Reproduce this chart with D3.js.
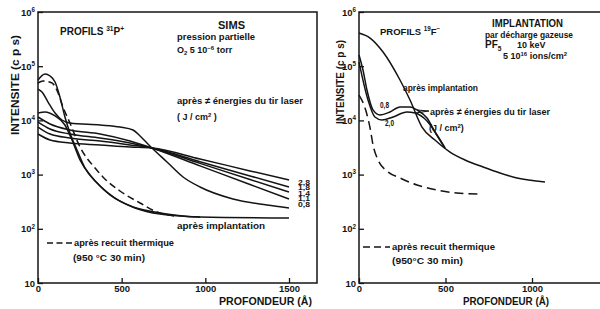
<!DOCTYPE html>
<html><head><meta charset="utf-8">
<script src="https://cdn.jsdelivr.net/npm/d3@7"></script>
<style>html,body{margin:0;padding:0;background:#fff;} svg{display:block;}</style>
</head><body><svg id="c" width="600" height="309"></svg>
<script>
// ---------- DATA (depth in Å, intensity in c/s) ----------
const yTickValues = [10, 1e2, 1e3, 1e4, 1e5, 1e6];
const xTicksP = [0, 500, 1000, 1500];
const xTicksF = [0, 500, 1000];
const laserLabelsP = ["2,8", "1,8", "1,4", "1,1", "0,8"];
const laserLabelsF = ["0,8", "2,0"];

// Left panel: profils 31P+
const pImplant = [[0,55600],[42,71800],[72,65900],[102,51100],[131,27000],[161,11550],[191,5860],[233,2840],[281,1320],[353,700],[430,421],[568,252],[729,196],[968,165],[1500,158]];
const pRecuit = [[0,49000],[30,53300],[84,49000],[120,32000],[149,17700],[191,8960],[251,3230],[341,1320],[388,903],[490,498],[610,299],[711,204],[819,172]];
const pSteep = [[0,13700],[42,14300],[102,12060],[161,8220],[203,4350],[251,1860],[311,984],[371,616],[460,370],[580,242],[729,187],[968,165]];
const pLaser08 = [[0,37900],[24,33400],[60,21800],[102,13700],[143,10170],[191,8960],[371,8220],[490,7550],[568,6650],[610,5150],[651,3830],[681,3100],[771,1710],[867,903],[968,590],[1165,355],[1368,275],[1500,242]];
const pLaser11 = [[0,11550],[72,8590],[191,6650],[371,5610],[550,4170],[681,3100],[968,1450],[1267,657],[1500,355]];
const pLaser14 = [[0,9340],[72,6940],[191,5610],[371,4730],[550,3830],[681,3100],[968,1610],[1267,812],[1500,478]];
const pLaser18 = [[0,7550],[72,5610],[191,4730],[371,4170],[550,3520],[681,3100],[968,1730],[1267,946],[1500,590]];
const pLaser28 = [[0,5610],[72,4350],[191,3830],[371,3520],[550,3230],[681,3100],[968,1940],[1267,1170],[1500,795]];

// Right panel: profils 19F-
const fImplant = [[0,410000],[64,331000],[139,183000],[237,55600],[295,23800],[364,7550],[439,4350],[526,2610],[613,1860],[717,1380],[815,1070],[913,866],[1075,730]];
const fRecuit = [[0,29400],[35,16900],[64,7240],[81,3520],[110,1860],[162,1160],[237,866],[335,643],[451,520],[566,458],[699,439]];
const fLaser08 = [[0,161000],[23,85100],[46,36400],[81,15600],[121,12600],[179,14300],[237,17700],[295,17700],[335,15600],[393,11070],[439,6110],[497,3100]];
const fLaser20 = [[0,119000],[52,23800],[92,11550],[133,10170],[197,11550],[277,14300],[324,13700],[393,9750],[451,5380],[497,3100]];

// ---------- DRAWING ----------
const ink = '#141414';
const FONT = "'Liberation Sans', Arial, sans-serif";
const svg = d3.select('#c').attr('font-family', FONT);
svg.append('rect').attr('width',600).attr('height',309).attr('fill','#fff');

const y = d3.scaleLog().domain([10, 1e6]).range([283, 12]);
const xP = d3.scaleLinear().domain([0, 1500]).range([38, 289]);
const xF = d3.scaleLinear().domain([0, 1000]).range([359, 532]);

function addText(g, x, yy, parts, o = {}) {
  const fs = o.fs || 9;
  const t = g.append('text').attr('x', x).attr('y', yy).attr('font-size', fs)
    .attr('font-weight', o.fw || 'bold').attr('fill', ink);
  if (o.anchor) t.attr('text-anchor', o.anchor);
  if (o.len) t.attr('textLength', o.len).attr('lengthAdjust', 'spacingAndGlyphs');
  let shift = 0;
  (Array.isArray(parts) ? parts : [parts]).forEach(p => {
    let s = p, kind = null;
    if (typeof p === 'object') { s = p.t; kind = p.k; }
    const target = kind === 'sup' ? -fs * 0.38 : kind === 'sub' ? fs * 0.25 : 0;
    const ts = t.append('tspan').text(s).attr('dy', target - shift);
    if (kind) ts.attr('font-size', fs * 0.66);
    shift = target;
  });
  return t;
}

// frames
svg.append('path').attr('d', 'M38,12H317V283H38Z').attr('fill','none').attr('stroke',ink).attr('stroke-width',1.5);
svg.append('path').attr('d', 'M600,12H359V283H600').attr('fill','none').attr('stroke',ink).attr('stroke-width',1.5);

function yAxis(x0) {
  const g = svg.append('g').attr('transform', `translate(${x0},0)`)
    .call(d3.axisLeft(y).tickValues(yTickValues).tickSize(-5).tickSizeOuter(0).tickFormat(''));
  g.select('.domain').remove();
  g.selectAll('.tick line').attr('stroke', ink).attr('stroke-width', 1.3);
  g.selectAll('.tick text').remove();
  g.selectAll('.tick').each(function (d) {
    const e = Math.round(Math.log10(d));
    addText(d3.select(this), -3, 3, e === 1 ? ['10'] : ['10', { t: String(e), k: 'sup' }], { fs: 9.5, anchor: 'end' });
  });
}
function xAxis(scale, ticks) {
  const g = svg.append('g').attr('transform', 'translate(0,283)')
    .call(d3.axisBottom(scale).tickValues(ticks).tickSize(-5).tickSizeOuter(0).tickPadding(2).tickFormat(d3.format('d')));
  g.select('.domain').remove();
  g.selectAll('.tick line').attr('stroke', ink).attr('stroke-width', 1.3);
  g.selectAll('.tick text').attr('fill', ink).attr('font-size', 9.5).attr('font-weight', 'bold')
    .attr('font-family', FONT);
}
yAxis(38); yAxis(359);
xAxis(xP, xTicksP); xAxis(xF, xTicksF);

function drawLine(data, xs, dash) {
  const line = d3.line().x(d => xs(d[0])).y(d => y(d[1])).curve(d3.curveMonotoneX);
  const p = svg.append('path').datum(data).attr('d', line).attr('fill', 'none')
    .attr('stroke', ink).attr('stroke-width', 1.5).attr('stroke-linejoin', 'round');
  if (dash) p.attr('stroke-dasharray', dash);
}
[pImplant, pSteep, pLaser08, pLaser11, pLaser14, pLaser18, pLaser28].forEach(s => drawLine(s, xP));
drawLine(pRecuit, xP, '7,4');
[fImplant, fLaser08, fLaser20].forEach(s => drawLine(s, xF));
drawLine(fRecuit, xF, '9,5');

// axis titles
function vTitle(cx, cy, len) {
  svg.append('text').attr('transform', `translate(${cx},${cy}) rotate(-90)`).attr('text-anchor', 'middle')
    .attr('font-size', 10.5).attr('font-weight', 'bold').attr('fill', ink)
    .attr('textLength', len).attr('lengthAdjust', 'spacingAndGlyphs').text('INTENSITE (c p s)');
}
vTitle(19, 85, 100);
vTitle(344, 82, 84);
addText(svg, 219, 305, 'PROFONDEUR (Å)', { fs: 10, len: 93 });
addText(svg, 463, 305, 'PROFONDEUR (Å)', { fs: 10, len: 86 });

// left annotations
addText(svg, 60, 35, ['PROFILS  ', { t: '31', k: 'sup' }, 'P', { t: '+', k: 'sup' }], { fs: 10 });
addText(svg, 218, 29, 'SIMS', { fs: 10, len: 27 });
addText(svg, 177, 40, 'pression partielle', { fs: 9.5, len: 78 });
addText(svg, 177, 53, ['O', { t: '2', k: 'sub' }, ' 5 10', { t: '−6', k: 'sup' }, ' torr'], { fs: 9 });
addText(svg, 177, 104, 'après ≠ énergies du tir laser', { fs: 9.5, len: 126 });
addText(svg, 177, 120, ['( J / cm', { t: '2', k: 'sup' }, ' )'], { fs: 9 });
addText(svg, 177, 229, 'après implantation', { fs: 9.5, len: 88 });
svg.append('line').attr('x1', 47).attr('x2', 72).attr('y1', 243).attr('y2', 243)
  .attr('stroke', ink).attr('stroke-width', 1.4).attr('stroke-dasharray', '6,3.5');
addText(svg, 74, 246, 'après recuit thermique', { fs: 9.5, len: 100 });
addText(svg, 73, 261, '(950 °C  30 min)', { fs: 9.5, len: 72 });
const labY = [184.5, 190, 195.5, 201, 206.5];
laserLabelsP.forEach((l, i) => addText(svg, 298, labY[i], l, { fs: 6.5, len: 12 }));

// right annotations
addText(svg, 380, 35, ['PROFILS ', { t: '19', k: 'sup' }, 'F', { t: '−', k: 'sup' }], { fs: 9.5 });
addText(svg, 492, 27, 'IMPLANTATION', { fs: 10, len: 71 });
addText(svg, 485, 38, 'par décharge gazeuse', { fs: 9.5, len: 88 });
addText(svg, 485, 48, ['PF', { t: '5', k: 'sub' }], { fs: 10 });
addText(svg, 517, 48, '10 keV', { fs: 9 });
addText(svg, 503, 59, ['5 10', { t: '16', k: 'sup' }, '  ions/cm', { t: '2', k: 'sup' }], { fs: 9 });
addText(svg, 403, 91, 'après implantation', { fs: 9.5, len: 75 });
addText(svg, 380, 108, laserLabelsF[0], { fs: 8.5, len: 9 });
addText(svg, 385, 126, laserLabelsF[1], { fs: 8.5, len: 9 });
addText(svg, 430, 115, 'après ≠ énergies du tir laser', { fs: 9.5, len: 120 });
addText(svg, 429, 131, ['(J / cm', { t: '2', k: 'sup' }, ')'], { fs: 9 });
// leader lines from label to the two laser curves (anchored on data points)
const leadA = fLaser08[8], leadB = fLaser20[6];
[leadA, leadB].forEach(d => svg.append('line').attr('x1', 429).attr('y1', 111)
  .attr('x2', xF(d[0])).attr('y2', y(d[1])).attr('stroke', ink).attr('stroke-width', 1.1));
svg.append('line').attr('x1', 363).attr('x2', 390).attr('y1', 247).attr('y2', 247)
  .attr('stroke', ink).attr('stroke-width', 1.4).attr('stroke-dasharray', '7,4');
addText(svg, 392, 250, 'après recuit thermique', { fs: 9.5, len: 103 });
addText(svg, 392, 264, '(950°C  30 min)', { fs: 9.5, len: 71 });
</script></body></html>
